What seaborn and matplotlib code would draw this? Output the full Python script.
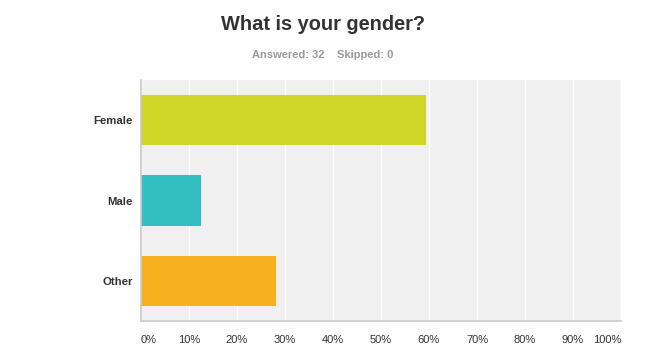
import pandas as pd
import matplotlib
matplotlib.use("Agg")
import matplotlib.pyplot as plt
import seaborn as sns

# 資料
categories = ["Female", "Male", "Other"]
percent = [59.38, 12.50, 28.13]
colors = ["#cfd628", "#33bfc1", "#f7b11f"]
tick_values = [0, 10, 20, 30, 40, 50, 60, 70, 80, 90, 100]
tick_labels = [f"{v}%" for v in tick_values]

df = pd.DataFrame({"Answer": categories, "Percent": percent})

sns.set_style("white")
plt.rcParams["font.family"] = ["Liberation Sans", "DejaVu Sans"]

fig = plt.figure(figsize=(6.46, 3.6), dpi=100)
ax = fig.add_axes([141 / 646, 39 / 360, 480 / 646, 241 / 360])
ax.set_facecolor("#f0f0f0")

sns.barplot(data=df, x="Percent", y="Answer", hue="Answer", palette=colors,
            orient="h", width=0.625, legend=False, ax=ax, saturation=1,
            linewidth=0)

ax.set_xlim(0, 100)
ax.set_ylim(2.5, -0.5)
ax.set_xticks(tick_values)
ax.set_xticklabels(tick_labels, fontsize=8, color="#333333")
labels = ax.get_xticklabels()
labels[0].set_ha("left")
labels[-1].set_ha("right")
ax.tick_params(axis="x", length=0, pad=10)
ax.tick_params(axis="y", length=0, pad=6)
for lab in ax.get_yticklabels():
    lab.set_fontweight("bold")
    lab.set_fontsize(8.2)
    lab.set_color("#333333")

ax.grid(axis="x", color="white", linewidth=1)
ax.set_axisbelow(True)
for s in ["top", "right"]:
    ax.spines[s].set_visible(False)
for s in ["left", "bottom"]:
    ax.spines[s].set_color("#cccccc")
    ax.spines[s].set_linewidth(1.2)
ax.set_xlabel("")
ax.set_ylabel("")

fig.text(323 / 646, 1 - 25 / 360, "What is your gender?", ha="center", va="center",
         fontsize=14.4, fontweight="bold", color="#333333")
fig.text(323 / 646, 1 - 55 / 360, "Answered: 32    Skipped: 0", ha="center", va="center",
         fontsize=8, fontweight="bold", color="#999999")

fig.savefig("out.png", dpi=100)
